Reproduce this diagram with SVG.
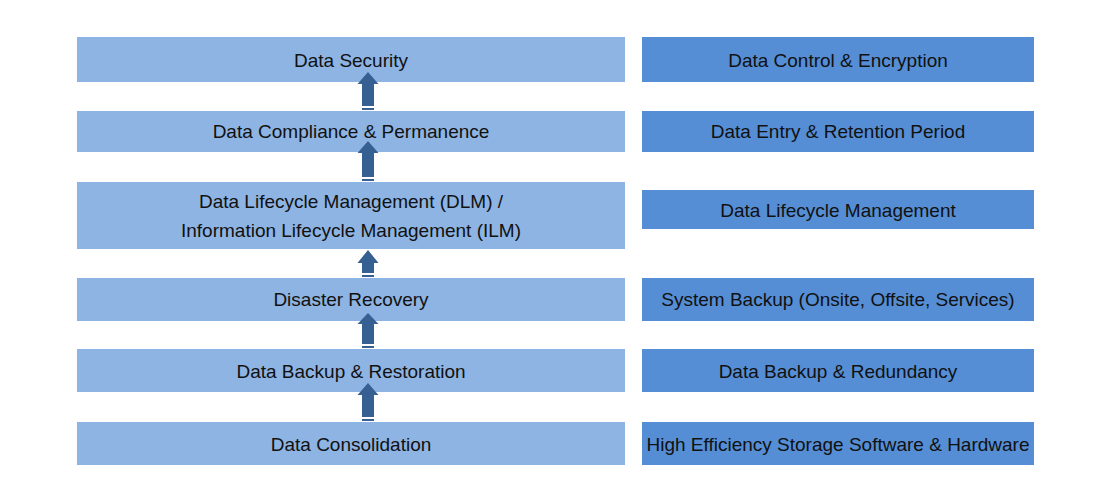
<svg xmlns="http://www.w3.org/2000/svg" width="1100" height="500" viewBox="0 0 1100 500">
<style>
.l{fill:#8EB4E3}
.r{fill:#558ED5}
text{font-family:"Liberation Sans",Arial,sans-serif;font-size:19px;fill:#111;text-anchor:middle}
.a{fill:#376092}
</style>
<rect width="1100" height="500" fill="#fff"/>
<g id="n1"><rect class="l" x="77" y="37" width="548" height="45"/><text x="351" y="67">Data Security</text></g>
<g id="n2"><rect class="l" x="77" y="111" width="548" height="41"/><text x="351" y="138">Data Compliance &amp; Permanence</text></g>
<g id="n3"><rect class="l" x="77" y="182" width="548" height="67"/><text x="351" y="208">Data Lifecycle Management (DLM) /</text><text x="351" y="237">Information Lifecycle Management (ILM)</text></g>
<g id="n4"><rect class="l" x="77" y="278" width="548" height="43"/><text x="351" y="306">Disaster Recovery</text></g>
<g id="n5"><rect class="l" x="77" y="349" width="548" height="43"/><text x="351" y="378">Data Backup &amp; Restoration</text></g>
<g id="n6"><rect class="l" x="77" y="422" width="548" height="43"/><text x="351" y="451">Data Consolidation</text></g>
<g id="m1"><rect class="r" x="642" y="37" width="392" height="45"/><text x="838" y="67">Data Control &amp; Encryption</text></g>
<g id="m2"><rect class="r" x="642" y="111" width="392" height="41"/><text x="838" y="138">Data Entry &amp; Retention Period</text></g>
<g id="m3"><rect class="r" x="642" y="190" width="392" height="39"/><text x="838" y="217">Data Lifecycle Management</text></g>
<g id="m4"><rect class="r" x="642" y="278" width="392" height="43"/><text x="838" y="306">System Backup (Onsite, Offsite, Services)</text></g>
<g id="m5"><rect class="r" x="642" y="349" width="392" height="43"/><text x="838" y="378">Data Backup &amp; Redundancy</text></g>
<g id="m6"><rect class="r" x="642" y="422" width="392" height="43"/><text x="838" y="451">High Efficiency Storage Software &amp; Hardware</text></g>
<g id="connectors">
<path class="a" d="M368,72 L378.5,84 L374,84 L374,106 L362,106 L362,84 L357.5,84 Z"/>
<rect class="a" x="362" y="108" width="12" height="2"/>
<path class="a" d="M368,141 L378.5,153 L374,153 L374,177 L362,177 L362,153 L357.5,153 Z"/>
<rect class="a" x="362" y="179" width="12" height="2"/>
<path class="a" d="M368,250 L378.5,263 L374,263 L374,273 L362,273 L362,263 L357.5,263 Z"/>
<rect class="a" x="362" y="275" width="12" height="2"/>
<path class="a" d="M368,313 L378.5,324 L374,324 L374,344 L362,344 L362,324 L357.5,324 Z"/>
<rect class="a" x="362" y="346" width="12" height="2"/>
<path class="a" d="M368,383 L378.5,395 L374,395 L374,417 L362,417 L362,395 L357.5,395 Z"/>
<rect class="a" x="362" y="419" width="12" height="2"/>
</g>
</svg>
